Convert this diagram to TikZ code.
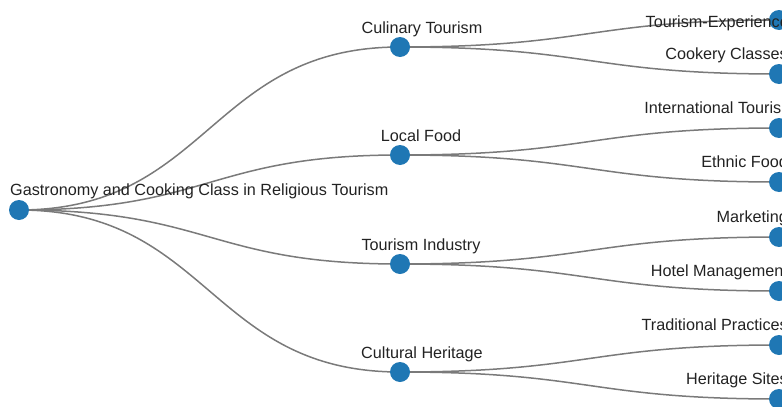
\documentclass[tikz,border=0pt]{standalone}
\usepackage{fontspec}
\setmainfont{Liberation Sans}
\usetikzlibrary{calc,backgrounds}
\definecolor{nodeblue}{HTML}{1F77B4}
\definecolor{linkgray}{HTML}{7A7A7A}
\definecolor{labelink}{HTML}{222222}
\begin{document}
\begin{tikzpicture}[x=1pt,y=-1pt,
  dot/.style={circle,fill=nodeblue,minimum size=20pt,inner sep=0pt},
  lbl/.style={font=\fontsize{16.2}{19}\selectfont,text=labelink,inner sep=0pt},
  hlink/.style={draw=linkgray,line width=1.5pt},
  hcurve/.style={to path={let \p1=(\tikztostart),\p2=(\tikztotarget),\p3=($(\p1)!0.5!(\p2)$)
      in .. controls (\x3,\y1) and (\x3,\y2) .. (\tikztotarget)}}]
\useasboundingbox (0,0) rectangle (782,407);
\clip (0,0) rectangle (782,407);

% tree nodes
\node[dot] (root) at (19,210) {};
\node[dot] (cul) at (400,47) {};
\node[dot] (loc) at (400,155) {};
\node[dot] (ind) at (400,264) {};
\node[dot] (her) at (400,372) {};
\node[dot] (exp) at (779,20) {};
\node[dot] (cook) at (779,74) {};
\node[dot] (intl) at (779,128) {};
\node[dot] (eth) at (779,182) {};
\node[dot] (mkt) at (779,237) {};
\node[dot] (hot) at (779,291) {};
\node[dot] (trad) at (779,345) {};
\node[dot] (site) at (779,399) {};

% horizontal links behind the nodes
\begin{scope}[on background layer]
  \foreach \c in {cul,loc,ind,her} \draw[hlink] (root.center) to[hcurve] (\c.center);
  \draw[hlink] (cul.center) to[hcurve] (exp.center);
  \draw[hlink] (cul.center) to[hcurve] (cook.center);
  \draw[hlink] (loc.center) to[hcurve] (intl.center);
  \draw[hlink] (loc.center) to[hcurve] (eth.center);
  \draw[hlink] (ind.center) to[hcurve] (mkt.center);
  \draw[hlink] (ind.center) to[hcurve] (hot.center);
  \draw[hlink] (her.center) to[hcurve] (trad.center);
  \draw[hlink] (her.center) to[hcurve] (site.center);
\end{scope}

% labels
\node[lbl,anchor=base west] (t-root) at ([shift={(-9,-15)}]root.center) {Gastronomy and Cooking Class in Religious Tourism};
\node[lbl,anchor=base] (t-cul) at ([shift={(22,-14)}]cul.center) {Culinary Tourism};
\node[lbl,anchor=base] (t-loc) at ([shift={(21,-14)}]loc.center) {Local Food};
\node[lbl,anchor=base] (t-ind) at ([shift={(21,-14)}]ind.center) {Tourism Industry};
\node[lbl,anchor=base] (t-her) at ([shift={(22,-14)}]her.center) {Cultural Heritage};
\node[lbl,anchor=base east] (t-exp) at ([shift={(10,7)}]exp.center) {Tourism-Experience};
\node[lbl,anchor=base east] (t-cook) at ([shift={(9,-15)}]cook.center) {Cookery Classes};
\node[lbl,anchor=base east] (t-intl) at ([shift={(16,-15)}]intl.center) {International Tourism};
\node[lbl,anchor=base east] (t-eth) at ([shift={(9,-15)}]eth.center) {Ethnic Food};
\node[lbl,anchor=base east] (t-mkt) at ([shift={(9,-15)}]mkt.center) {Marketing};
\node[lbl,anchor=base east] (t-hot) at ([shift={(9,-15)}]hot.center) {Hotel Management};
\node[lbl,anchor=base east] (t-trad) at ([shift={(9,-15)}]trad.center) {Traditional Practices};
\node[lbl,anchor=base east] (t-site) at ([shift={(9,-15)}]site.center) {Heritage Sites};
\end{tikzpicture}
\end{document}
